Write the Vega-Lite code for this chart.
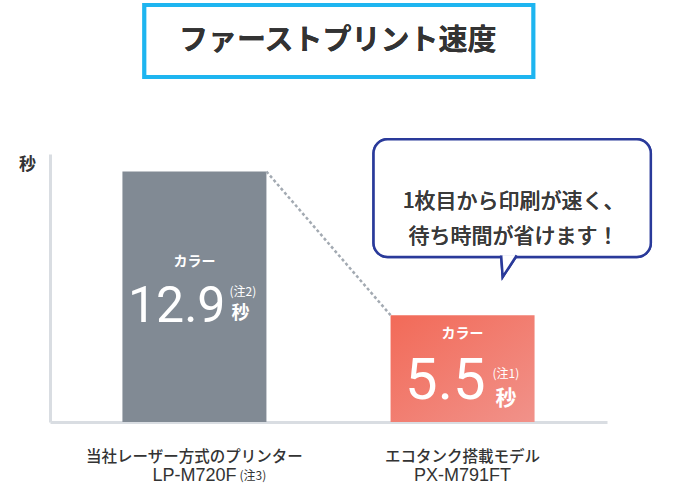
{
  "$schema": "https://vega.github.io/schema/vega-lite/v6.json",
  "width": 557,
  "height": 268,
  "autosize": "none",
  "padding": {"left": 50, "top": 154, "right": 71, "bottom": 63},
  "background": "white",
  "config": {
    "view": {"stroke": null},
    "font": "Noto Sans CJK JP",
    "axisX": {"domain": true, "domainColor": "#D9DDE2", "domainWidth": 3, "labels": false, "ticks": false, "grid": false},
    "axisY": {"domain": true, "domainColor": "#D9DDE2", "domainWidth": 3, "labels": false, "ticks": false, "grid": false}
  },
  "data": {
    "values": [
      {"idx": 1, "line1": "当社レーザー方式のプリンター", "line2": "LP-M720F", "note": "(注3)", "label": "カラー", "value": 12.9, "vnote": "(注2)", "unit": "秒"},
      {"idx": 2, "line1": "エコタンク搭載モデル", "line2": "PX-M791FT", "note": "", "label": "カラー", "value": 5.5, "vnote": "(注1)", "unit": "秒"}
    ]
  },
  "layer": [
    {
      "layer": [
        {
          "transform": [{"filter": "datum.idx == 1"}],
          "mark": {"type": "bar", "width": 144, "color": "#818A94"},
          "encoding": {
            "x": {"field": "idx", "type": "quantitative", "scale": {"domain": [0.48, 2.52], "nice": false, "zero": false}, "axis": {"title": null}},
            "y": {"field": "value", "type": "quantitative", "scale": {"domain": [0, 13.8], "nice": false}, "axis": {"title": "秒", "titleAngle": 0, "titleX": -23, "titleY": 10, "titleAlign": "center", "titleBaseline": "middle", "titleFontSize": 17, "titleFontWeight": "bold", "titleColor": "#333333", "titleFont": "Noto Sans CJK JP"}}
          }
        },
        {
          "transform": [{"filter": "datum.idx == 2"}],
          "mark": {"type": "bar", "width": 144, "color": {"gradient": "linear", "x1": 0, "y1": 0, "x2": 1, "y2": 1, "stops": [{"offset": 0, "color": "#F26A58"}, {"offset": 1, "color": "#F1928A"}]}},
          "encoding": {
            "x": {"field": "idx", "type": "quantitative"},
            "y": {"field": "value", "type": "quantitative"}
          }
        },
        {
          "transform": [
            {"window": [{"op": "lead", "field": "value", "as": "nextValue"}, {"op": "lead", "field": "idx", "as": "nextIdx"}], "sort": [{"field": "idx"}]},
            {"filter": "datum.nextIdx != null"}
          ],
          "mark": {"type": "rule", "color": "#A3AAB2", "strokeWidth": 2.5, "strokeDash": [3, 2.5], "xOffset": 72, "x2Offset": -72},
          "encoding": {
            "x": {"field": "idx", "type": "quantitative"},
            "x2": {"field": "nextIdx"},
            "y": {"field": "value", "type": "quantitative"},
            "y2": {"field": "nextValue"}
          }
        },
        {
          "mark": {"type": "text", "fontSize": 15.5, "fontWeight": 500, "color": "#333333", "baseline": "middle", "dy": 35},
          "encoding": {
            "x": {"field": "idx", "type": "quantitative"},
            "y": {"datum": 0, "type": "quantitative"},
            "text": {"field": "line1"}
          }
        },
        {
          "mark": {"type": "text", "fontSize": 18, "font": "Liberation Sans", "color": "#333333", "baseline": "middle", "dy": 54},
          "encoding": {
            "x": {"field": "idx", "type": "quantitative"},
            "y": {"datum": 0, "type": "quantitative"},
            "text": {"field": "line2"}
          }
        },
        {
          "mark": {"type": "text", "fontSize": 12, "color": "#333333", "baseline": "middle", "align": "left", "dx": 45, "dy": 54},
          "encoding": {
            "x": {"field": "idx", "type": "quantitative"},
            "y": {"datum": 0, "type": "quantitative"},
            "text": {"field": "note"}
          }
        },
        {
          "mark": {"type": "rect", "fill": "white", "stroke": "#1EB5F0", "strokeWidth": 4},
          "encoding": {
            "x": {"datum": 0.8133, "type": "quantitative"},
            "x2": {"datum": 2.2636},
            "y": {"datum": 21.473, "type": "quantitative"},
            "y2": {"datum": 17.765}
          }
        },
        {
          "mark": {"type": "text", "fontSize": 29, "fontWeight": "bold", "color": "#333333", "baseline": "middle", "align": "center"},
          "encoding": {
            "x": {"datum": 1.5348, "type": "quantitative"},
            "y": {"datum": 19.619, "type": "quantitative"},
            "text": {"value": "ファーストプリント速度"}
          }
        },
        {
          "mark": {"type": "rect", "fill": "white", "stroke": "#2A3A9A", "strokeWidth": 2.5, "cornerRadius": 14},
          "encoding": {
            "x": {"datum": 1.668, "type": "quantitative"},
            "x2": {"datum": 2.702},
            "y": {"datum": 14.56, "type": "quantitative"},
            "y2": {"datum": 8.5}
          }
        },
        {
          "mark": {"type": "point", "shape": "M-0.75,-1.05L-0.6,1.1L0.8,-1.05", "size": 400, "filled": true, "fill": "white", "stroke": "#2A3A9A", "strokeWidth": 2.5, "opacity": 1, "strokeJoin": "miter"},
          "encoding": {
            "x": {"datum": 2.172, "type": "quantitative"},
            "y": {"datum": 8.03, "type": "quantitative"}
          }
        },
        {
          "mark": {"type": "text", "fontSize": 21, "fontWeight": 500, "color": "#3A3A3A", "baseline": "middle", "align": "center", "lineBreak": "\n", "lineHeight": 35},
          "encoding": {
            "x": {"datum": 2.1904, "type": "quantitative"},
            "y": {"datum": 11.303, "type": "quantitative"},
            "text": {"value": "1枚目から印刷が速く、\n待ち時間が省けます！"}
          }
        }
      ]
    },
    {
      "layer": [
        {
          "mark": {"type": "text", "fontSize": 14, "fontWeight": "bold", "color": "white", "baseline": "middle", "align": "center", "dy": -35},
          "encoding": {
            "x": {"field": "idx", "type": "quantitative"},
            "y": {"field": "value", "type": "quantitative", "scale": {"domain": [0, 27.6], "nice": false}, "axis": null},
            "text": {"field": "label"}
          }
        },
        {
          "transform": [{"filter": "datum.idx == 1"}],
          "mark": {"type": "text", "fontSize": 50, "font": "Roboto", "color": "white", "baseline": "alphabetic", "align": "right", "dx": 31, "dy": 25},
          "encoding": {
            "x": {"field": "idx", "type": "quantitative"},
            "y": {"field": "value", "type": "quantitative"},
            "text": {"field": "value", "type": "quantitative", "format": ".1f"}
          }
        },
        {
          "transform": [{"filter": "datum.idx == 1"}],
          "mark": {"type": "text", "fontSize": 12, "color": "white", "baseline": "middle", "align": "left", "dx": 35, "dy": -5},
          "encoding": {
            "x": {"field": "idx", "type": "quantitative"},
            "y": {"field": "value", "type": "quantitative"},
            "text": {"field": "vnote"}
          }
        },
        {
          "transform": [{"filter": "datum.idx == 1"}],
          "mark": {"type": "text", "fontSize": 18, "fontWeight": "bold", "color": "white", "baseline": "middle", "align": "center", "dx": 46, "dy": 17},
          "encoding": {
            "x": {"field": "idx", "type": "quantitative"},
            "y": {"field": "value", "type": "quantitative"},
            "text": {"field": "unit"}
          }
        },
        {
          "transform": [{"filter": "datum.idx == 2"}],
          "mark": {"type": "text", "fontSize": 58, "font": "Roboto", "color": "white", "baseline": "alphabetic", "align": "right", "dx": 23, "dy": 30.5},
          "encoding": {
            "x": {"field": "idx", "type": "quantitative"},
            "y": {"field": "value", "type": "quantitative"},
            "text": {"field": "value", "type": "quantitative", "format": ".1f"}
          }
        },
        {
          "transform": [{"filter": "datum.idx == 2"}],
          "mark": {"type": "text", "fontSize": 12, "color": "white", "baseline": "middle", "align": "left", "dx": 30, "dy": 5},
          "encoding": {
            "x": {"field": "idx", "type": "quantitative"},
            "y": {"field": "value", "type": "quantitative"},
            "text": {"field": "vnote"}
          }
        },
        {
          "transform": [{"filter": "datum.idx == 2"}],
          "mark": {"type": "text", "fontSize": 21, "fontWeight": "bold", "color": "white", "baseline": "middle", "align": "center", "dx": 43.5, "dy": 30},
          "encoding": {
            "x": {"field": "idx", "type": "quantitative"},
            "y": {"field": "value", "type": "quantitative"},
            "text": {"field": "unit"}
          }
        }
      ]
    }
  ],
  "resolve": {"scale": {"y": "independent"}}
}
